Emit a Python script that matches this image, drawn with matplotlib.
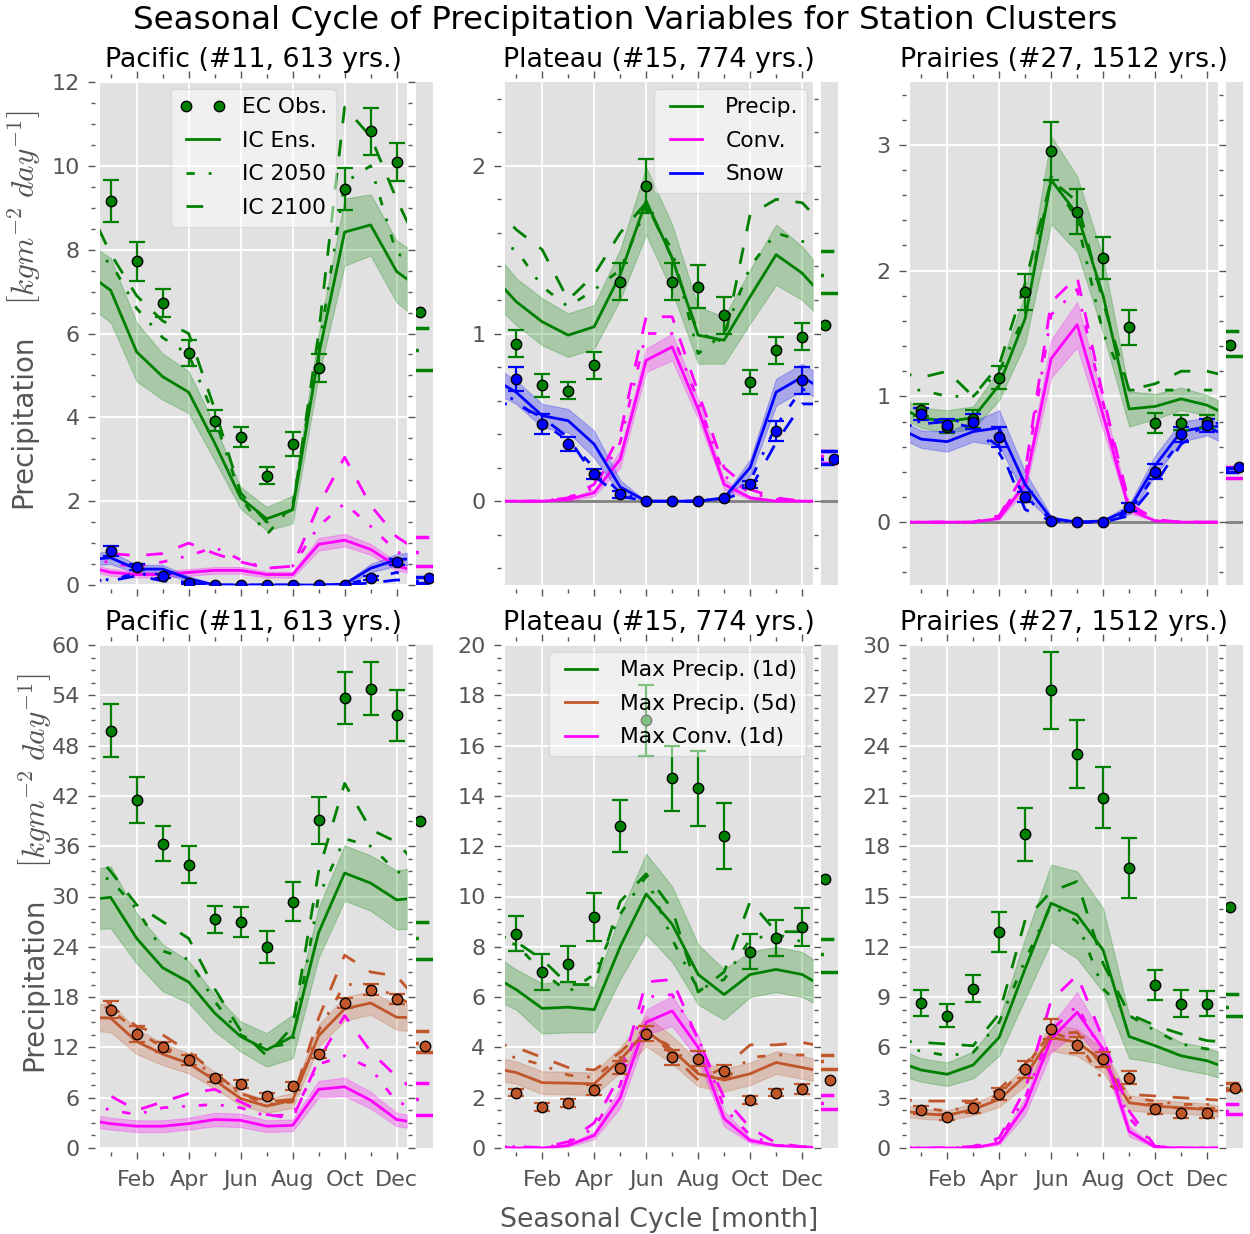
import numpy as np
import matplotlib.pyplot as plt
from matplotlib.lines import Line2D
from matplotlib.ticker import MultipleLocator, AutoMinorLocator, FixedLocator

plt.rcParams['font.family'] = ['DejaVu Sans']
plt.rcParams['mathtext.fontset'] = 'cm'

GREEN = '#008000'
MAGENTA = '#ff00ff'
BLUE = '#0000ff'
BROWN = '#c0562a'
GREY = '#555555'
BG = '#e1e1e1'
DASHDOT = (0, (3, 5, 1, 5))
DASHED = (0, (6, 6))

month_ticks = [2, 4, 6, 8, 10, 12]
month_names = ['Feb', 'Apr', 'Jun', 'Aug', 'Oct', 'Dec']
months = np.arange(1, 13)

# annual values: [obs, ens, 2050, 2100]

# ---- Pacific, mean precip ----
pac_pr_obs = [9.16, 7.72, 6.73, 5.53, 3.92, 3.53, 2.61, 3.36, 5.17, 9.44, 10.82, 10.10]
pac_pr_err = [0.51, 0.47, 0.34, 0.31, 0.25, 0.24, 0.21, 0.28, 0.33, 0.50, 0.55, 0.45]
pac_pr_ens = [7.03, 5.56, 4.97, 4.60, 3.39, 2.08, 1.58, 1.80, 5.48, 8.42, 8.59, 7.48]
pac_pr_spr = [0.77, 0.70, 0.55, 0.50, 0.42, 0.26, 0.28, 0.33, 0.50, 0.80, 0.73, 0.74]
pac_pr_f50 = [7.7, 6.6, 5.9, 5.5, 4.0, 2.1, 1.2, 1.9, 5.6, 9.6, 10.0, 7.9]
pac_pr_f100 = [7.9, 6.9, 6.3, 6.0, 4.2, 2.2, 1.5, 1.8, 6.0, 11.4, 10.7, 9.2]
pac_pr_ann = [6.51, 5.13, 5.6, 6.12]

pac_cv_ens = [0.30, 0.25, 0.25, 0.30, 0.35, 0.35, 0.25, 0.25, 0.97, 1.07, 0.85, 0.45]
pac_cv_spr = [0.08, 0.07, 0.07, 0.08, 0.08, 0.08, 0.07, 0.07, 0.15, 0.15, 0.13, 0.10]
pac_cv_f50 = [0.50, 0.45, 0.55, 0.70, 0.90, 0.60, 0.40, 0.45, 1.40, 1.95, 1.40, 0.80]
pac_cv_f100 = [0.75, 0.70, 0.75, 1.00, 0.75, 0.55, 0.40, 0.45, 1.90, 3.05, 1.90, 1.15]
pac_cv_ann = [None, 0.46, 0.78, 1.14]

pac_sn_obs = [0.82, 0.42, 0.22, 0.05, 0, 0, 0, 0, 0, 0, 0.17, 0.55]
pac_sn_err = [0.12, 0.07, 0.05, 0.03, 0, 0, 0, 0, 0, 0, 0.05, 0.08]
pac_sn_ens = [0.65, 0.38, 0.38, 0.15, 0.0, 0, 0, 0, 0, 0.02, 0.40, 0.60]
pac_sn_spr = [0.15, 0.10, 0.10, 0.06, 0.02, 0.01, 0.01, 0.01, 0.01, 0.03, 0.10, 0.14]
pac_sn_f50 = [0.10, 0.30, 0.15, 0.05, 0, 0, 0, 0, 0, 0.01, 0.15, 0.30]
pac_sn_f100 = [0.10, 0.22, 0.10, 0.03, 0, 0, 0, 0, 0, 0.0, 0.05, 0.12]
pac_sn_ann = [0.17, 0.19, 0.10, 0.05]

# ---- Plateau, mean precip ----
pla_pr_obs = [0.94, 0.69, 0.66, 0.81, 1.31, 1.88, 1.31, 1.28, 1.11, 0.71, 0.90, 0.98]
pla_pr_err = [0.08, 0.07, 0.05, 0.08, 0.11, 0.16, 0.11, 0.13, 0.11, 0.07, 0.08, 0.08]
pla_pr_ens = [1.19, 1.07, 0.99, 1.04, 1.35, 1.79, 1.45, 0.99, 0.96, 1.22, 1.47, 1.36]
pla_pr_spr = [0.14, 0.14, 0.13, 0.13, 0.15, 0.20, 0.20, 0.17, 0.14, 0.16, 0.18, 0.16]
pla_pr_f50 = [1.50, 1.28, 1.16, 1.26, 1.38, 1.75, 1.50, 0.88, 1.00, 1.40, 1.60, 1.55]
pla_pr_f100 = [1.62, 1.50, 1.20, 1.35, 1.60, 1.78, 1.45, 1.00, 0.95, 1.71, 1.80, 1.78]
pla_pr_ann = [1.05, 1.24, 1.35, 1.49]

pla_cv_ens = [0.0, 0.0, 0.01, 0.05, 0.25, 0.84, 0.92, 0.55, 0.10, 0.02, 0.0, 0.0]
pla_cv_spr = [0.0, 0.0, 0.01, 0.02, 0.05, 0.07, 0.08, 0.06, 0.03, 0.01, 0.0, 0.0]
pla_cv_f50 = [0.0, 0.0, 0.02, 0.08, 0.35, 1.00, 1.00, 0.60, 0.15, 0.05, 0.01, 0.0]
pla_cv_f100 = [0.0, 0.0, 0.02, 0.10, 0.40, 1.10, 1.10, 0.65, 0.20, 0.07, 0.02, 0.0]
pla_cv_ann = [None, 0.23, 0.27, 0.30]

pla_sn_obs = [0.73, 0.46, 0.34, 0.16, 0.04, 0, 0, 0, 0.02, 0.10, 0.42, 0.72]
pla_sn_err = [0.07, 0.06, 0.04, 0.03, 0.02, 0, 0, 0, 0, 0.02, 0.06, 0.08]
pla_sn_ens = [0.65, 0.51, 0.48, 0.34, 0.085, 0, 0, 0, 0.02, 0.20, 0.65, 0.74]
pla_sn_spr = [0.07, 0.07, 0.07, 0.08, 0.04, 0.0, 0.0, 0.0, 0.01, 0.05, 0.08, 0.08]
pla_sn_f50 = [0.60, 0.47, 0.36, 0.20, 0.05, 0, 0, 0, 0.02, 0.12, 0.45, 0.67]
pla_sn_f100 = [0.58, 0.50, 0.38, 0.15, 0.03, 0, 0, 0, 0.01, 0.07, 0.35, 0.58]
pla_sn_ann = [0.25, 0.30, 0.25, 0.22]

# ---- Prairies, mean precip ----
pra_pr_obs = [0.89, 0.76, 0.82, 1.15, 1.83, 2.95, 2.47, 2.10, 1.55, 0.79, 0.79, 0.80]
pra_pr_err = [0.05, 0.05, 0.07, 0.09, 0.14, 0.23, 0.18, 0.17, 0.14, 0.08, 0.06, 0.05]
pra_pr_ens = [0.83, 0.80, 0.83, 1.09, 1.62, 2.72, 2.45, 1.80, 0.90, 0.92, 0.98, 0.93]
pra_pr_spr = [0.08, 0.09, 0.09, 0.12, 0.20, 0.35, 0.30, 0.30, 0.14, 0.10, 0.09, 0.08]
pra_pr_f50 = [1.05, 1.00, 1.00, 1.20, 1.65, 2.75, 2.40, 1.50, 1.05, 1.05, 1.05, 1.05]
pra_pr_f100 = [1.15, 1.20, 1.00, 1.25, 1.90, 2.72, 2.55, 1.75, 1.05, 1.10, 1.20, 1.20]
pra_pr_ann = [1.41, 1.32, 1.43, 1.52]

pra_cv_ens = [0, 0, 0.0, 0.03, 0.30, 1.30, 1.57, 0.85, 0.10, 0.01, 0, 0]
pra_cv_spr = [0, 0, 0, 0.01, 0.05, 0.15, 0.18, 0.12, 0.03, 0, 0, 0]
pra_cv_f50 = [0, 0, 0, 0.05, 0.35, 1.65, 1.85, 0.95, 0.12, 0.01, 0, 0]
pra_cv_f100 = [0, 0, 0, 0.05, 0.40, 1.75, 1.95, 1.00, 0.15, 0.02, 0, 0]
pra_cv_ann = [None, 0.35, 0.41, 0.44]

pra_sn_obs = [0.86, 0.77, 0.80, 0.68, 0.20, 0.01, 0, 0, 0.12, 0.40, 0.70, 0.77]
pra_sn_err = [0.05, 0.05, 0.06, 0.08, 0.04, 0, 0, 0, 0.03, 0.06, 0.06, 0.05]
pra_sn_ens = [0.66, 0.64, 0.72, 0.75, 0.30, 0.03, 0, 0.01, 0.10, 0.45, 0.72, 0.76]
pra_sn_spr = [0.07, 0.08, 0.08, 0.14, 0.10, 0.02, 0, 0.01, 0.04, 0.08, 0.08, 0.07]
pra_sn_f50 = [0.80, 0.82, 0.78, 0.55, 0.20, 0.02, 0, 0, 0.08, 0.38, 0.65, 0.78]
pra_sn_f100 = [0.78, 0.80, 0.75, 0.60, 0.10, 0.01, 0, 0, 0.05, 0.30, 0.62, 0.75]
pra_sn_ann = [0.44, 0.43, 0.42, 0.40]

# ---- Pacific, extremes ----
pac_x1_obs = [49.8, 41.5, 36.3, 33.8, 27.3, 27.0, 24.0, 29.4, 39.1, 53.7, 54.8, 51.6]
pac_x1_err = [3.2, 2.7, 2.1, 2.2, 1.6, 1.8, 1.9, 2.3, 2.8, 3.1, 3.2, 3.0]
pac_x1_ens = [29.9, 25.0, 21.5, 19.8, 16.1, 13.3, 11.7, 13.3, 25.7, 32.8, 31.6, 29.6]
pac_x1_spr = [3.7, 3.0, 2.8, 2.5, 2.2, 1.8, 2.0, 2.6, 3.0, 3.3, 3.3, 3.5]
pac_x1_f50 = [32.0, 28.5, 23.5, 22.5, 17.5, 13.5, 12.0, 12.5, 30.0, 36.9, 36.0, 33.0]
pac_x1_f100 = [33.0, 29.0, 27.0, 25.0, 19.0, 14.0, 11.0, 14.5, 33.0, 43.5, 38.0, 36.5]
pac_x1_ann = [39.0, 22.6, 25.0, 27.0]

pac_x5_obs = [16.5, 13.6, 12.1, 10.5, 8.3, 7.6, 6.2, 7.4, 11.2, 17.3, 18.9, 17.8]
pac_x5_err = [1.0, 0.9, 0.6, 0.6, 0.4, 0.5, 0.4, 0.5, 0.5, 0.6, 0.7, 0.6]
pac_x5_ens = [15.5, 12.7, 11.2, 10.1, 8.1, 5.9, 5.0, 5.7, 13.4, 16.6, 17.3, 15.6]
pac_x5_spr = [1.7, 1.5, 1.3, 1.2, 1.0, 0.8, 0.8, 0.9, 1.3, 1.4, 1.4, 1.5]
pac_x5_f50 = [16.5, 14.0, 12.0, 11.0, 8.5, 6.5, 5.2, 5.5, 14.0, 19.5, 19.5, 18.0]
pac_x5_f100 = [17.0, 14.5, 13.5, 11.5, 9.0, 6.5, 5.5, 5.8, 15.5, 23.0, 21.0, 20.5]
pac_x5_ann = [12.2, 11.4, 12.5, 13.9]

pac_xc_ens = [2.9, 2.6, 2.6, 2.9, 3.4, 3.3, 2.6, 2.7, 7.0, 7.3, 5.7, 3.4]
pac_xc_spr = [0.7, 0.7, 0.7, 0.7, 0.8, 0.8, 0.7, 0.7, 1.0, 1.1, 1.0, 0.8]
pac_xc_f50 = [4.5, 4.0, 4.8, 5.0, 5.2, 4.8, 3.8, 4.0, 10.0, 11.0, 9.5, 5.5]
pac_xc_f100 = [6.2, 4.5, 5.5, 6.5, 7.0, 5.5, 4.0, 3.5, 10.5, 15.8, 11.5, 8.5]
pac_xc_ann = [None, 3.9, 5.8, 7.7]

# ---- Plateau, extremes ----
pla_x1_obs = [8.52, 7.0, 7.32, 9.2, 12.8, 17.0, 14.7, 14.3, 12.4, 7.8, 8.35, 8.8]
pla_x1_err = [0.7, 0.7, 0.7, 0.95, 1.05, 1.4, 1.3, 1.5, 1.3, 0.7, 0.7, 0.75]
pla_x1_ens = [6.3, 5.55, 5.6, 5.5, 8.0, 10.1, 8.9, 6.9, 6.1, 6.9, 7.1, 6.9]
pla_x1_spr = [0.8, 1.0, 1.0, 0.9, 1.3, 1.6, 1.5, 1.2, 1.0, 0.9, 0.9, 0.9]
pla_x1_f50 = [8.1, 7.0, 6.2, 6.9, 9.3, 10.8, 8.3, 6.3, 6.7, 8.3, 8.5, 8.2]
pla_x1_f100 = [8.2, 7.5, 6.5, 6.5, 9.8, 10.9, 9.5, 6.2, 7.0, 9.8, 8.6, 8.6]
pla_x1_ann = [10.7, 7.0, 7.7, 8.3]

pla_x5_obs = [2.2, 1.62, 1.8, 2.3, 3.2, 4.55, 3.6, 3.55, 3.05, 1.9, 2.2, 2.35]
pla_x5_err = [0.15, 0.15, 0.15, 0.2, 0.25, 0.3, 0.3, 0.3, 0.25, 0.15, 0.15, 0.2]
pla_x5_ens = [3.0, 2.6, 2.58, 2.55, 3.5, 4.65, 3.9, 2.95, 2.7, 2.95, 3.4, 3.2]
pla_x5_spr = [0.45, 0.45, 0.45, 0.45, 0.5, 0.6, 0.55, 0.5, 0.45, 0.45, 0.45, 0.45]
pla_x5_f50 = [3.6, 3.3, 2.9, 2.8, 3.6, 4.6, 4.0, 3.0, 2.7, 3.6, 3.7, 3.7]
pla_x5_f100 = [4.0, 3.6, 3.2, 3.1, 3.8, 4.8, 3.7, 2.7, 3.2, 4.1, 4.1, 4.2]
pla_x5_ann = [2.7, 3.15, 3.45, 3.7]

pla_xc_ens = [0.0, 0.0, 0.1, 0.5, 2.0, 5.0, 5.45, 4.0, 1.17, 0.3, 0.1, 0.05]
pla_xc_spr = [0.02, 0.02, 0.05, 0.15, 0.4, 0.5, 0.6, 0.5, 0.3, 0.1, 0.03, 0.02]
pla_xc_f50 = [0.05, 0.0, 0.2, 0.8, 2.5, 6.0, 6.1, 4.4, 1.6, 0.5, 0.1, 0.05]
pla_xc_f100 = [0.05, 0.02, 0.25, 1.0, 2.9, 6.6, 6.7, 4.3, 2.0, 0.8, 0.2, 0.05]
pla_xc_ann = [None, 1.55, 1.77, 2.1]

# ---- Prairies, extremes ----
pra_x1_obs = [8.65, 7.9, 9.5, 12.9, 18.7, 27.3, 23.5, 20.9, 16.7, 9.7, 8.6, 8.6]
pra_x1_err = [0.75, 0.7, 0.8, 1.2, 1.6, 2.3, 2.0, 1.8, 1.8, 0.9, 0.8, 0.75]
pra_x1_ens = [4.65, 4.4, 4.95, 6.6, 10.7, 14.6, 13.9, 11.8, 6.65, 6.1, 5.5, 5.2]
pra_x1_spr = [0.7, 0.7, 0.8, 1.1, 1.8, 2.3, 2.6, 2.5, 1.3, 1.0, 0.8, 0.8]
pra_x1_f50 = [5.8, 5.5, 5.7, 7.5, 11.2, 14.5, 13.5, 9.5, 7.9, 7.0, 6.2, 5.9]
pra_x1_f100 = [6.3, 6.2, 6.1, 8.0, 13.6, 15.3, 15.9, 11.0, 8.0, 7.3, 6.8, 6.4]
pra_x1_ann = [14.4, 7.9, 8.4, 9.2]

pra_x5_obs = [2.25, 1.85, 2.4, 3.2, 4.7, 7.1, 6.15, 5.3, 4.2, 2.3, 2.1, 2.1]
pra_x5_err = [0.25, 0.2, 0.3, 0.35, 0.5, 0.6, 0.5, 0.45, 0.4, 0.3, 0.3, 0.3]
pra_x5_ens = [2.05, 1.95, 2.3, 2.9, 4.3, 6.6, 6.3, 5.2, 2.7, 2.5, 2.4, 2.3]
pra_x5_spr = [0.3, 0.3, 0.35, 0.45, 0.6, 0.8, 0.8, 0.7, 0.45, 0.4, 0.35, 0.35]
pra_x5_f50 = [2.4, 2.2, 2.5, 3.2, 4.8, 6.9, 6.4, 4.0, 3.0, 2.8, 2.6, 2.6]
pra_x5_f100 = [2.8, 2.8, 2.8, 3.5, 5.0, 6.8, 6.9, 4.8, 3.2, 3.1, 3.0, 2.9]
pra_x5_ann = [3.6, 3.45, 3.6, 3.9]

pra_xc_ens = [0, 0, 0, 0.3, 2.5, 6.5, 8.1, 5.9, 1.0, 0.05, 0, 0]
pra_xc_spr = [0, 0, 0.02, 0.1, 0.5, 0.8, 1.2, 0.7, 0.3, 0.03, 0, 0]
pra_xc_f50 = [0, 0, 0.05, 0.5, 3.0, 7.0, 8.5, 5.5, 1.8, 0.1, 0, 0]
pra_xc_f100 = [0, 0, 0.1, 0.6, 3.5, 8.8, 10.3, 6.5, 2.2, 0.1, 0, 0]
pra_xc_ann = [None, 2.05, 2.2, 2.65]

titles = ['Pacific (#11, 613 yrs.)', 'Plateau (#15, 774 yrs.)', 'Prairies (#27, 1512 yrs.)']


def wrap(v):
    # repeat Dec before Jan and Jan after Dec so lines run to the edges
    v = list(v)
    return np.array([v[-1]] + v + [v[0]], dtype=float)


xw = np.arange(0, 14)


def draw_series(ax, sax, color, ens, spr, f50, f100, ann, obs=None, err=None, xpos=0.25):
    e = wrap(ens)
    s = wrap(spr)
    ax.fill_between(xw, e - s, e + s, color=color, alpha=0.25, lw=0.8, zorder=2)
    ax.plot(xw, e, color=color, lw=2, zorder=3)
    ax.plot(xw, wrap(f50), color=color, lw=2, ls=DASHDOT, zorder=3)
    ax.plot(xw, wrap(f100), color=color, lw=2, ls=DASHED, zorder=3)
    if obs is not None:
        obs = np.array(obs, dtype=float)
        err = np.array(err, dtype=float)
        m = err > 0
        ax.errorbar(months[m], obs[m], yerr=err[m], fmt='none', ecolor=color,
                    elinewidth=1.6, capsize=6, capthick=1.6, zorder=4)
        ax.plot(months, obs, 'o', ms=7.5, mfc=color, mec='k', mew=1, zorder=5)
    sx = [-0.5, 1.5]
    sax.plot(sx, [ann[1]] * 2, color=color, lw=2.5, zorder=3)
    sax.plot(sx, [ann[2]] * 2, color=color, lw=2.5, ls=DASHDOT, zorder=3)
    sax.plot(sx, [ann[3]] * 2, color=color, lw=2.5, ls=DASHED, zorder=3)
    if ann[0] is not None:
        sax.plot([xpos], [ann[0]], 'o', ms=7.5, mfc=color, mec='k', mew=1, zorder=5)


def style_axes(ax, sax, ylim, major, bottom_row):
    for s in ['left', 'bottom', 'top']:
        ax.spines[s].set_position(('outward', 3))
    ax.spines['right'].set_position(('outward', 1))
    for sp in list(ax.spines.values()) + list(sax.spines.values()):
        sp.set_visible(False)
    ax.set_facecolor(BG)
    sax.set_facecolor(BG)
    ax.set_xlim(0.57, 12.4)
    ax.set_ylim(ylim)
    sax.set_xlim(0, 1)
    sax.set_ylim(ylim)
    ax.xaxis.set_major_locator(FixedLocator(month_ticks))
    ax.xaxis.set_minor_locator(MultipleLocator(1))
    ax.yaxis.set_major_locator(MultipleLocator(major))
    ax.yaxis.set_minor_locator(AutoMinorLocator())
    ax.grid(which='major', color='white', lw=1.3)
    ax.set_axisbelow(True)
    ax.tick_params(which='both', direction='out', color=GREY, labelcolor=GREY,
                   top=True, right=True, labelsize=16, width=1, pad=6)
    ax.tick_params(which='major', length=5)
    ax.tick_params(which='minor', length=3)
    if bottom_row:
        ax.set_xticklabels(month_names)
        ax.tick_params(axis='x', pad=8)
    else:
        ax.tick_params(axis='x', labelbottom=False)
    sax.tick_params(which='both', left=False, bottom=False, labelleft=False, labelbottom=False)


fig = plt.figure(figsize=(12.5, 12.34), dpi=100)
W, H = 1250.0, 1234.0
main_left = [99.5, 505, 910]
side_left = [416, 821, 1226]
row_top = [82, 645]
ax_w, ax_h, side_w = 307.5, 503, 17

axes = {}
for r in range(2):
    for c in range(3):
        b = (H - row_top[r] - ax_h) / H
        ax = fig.add_axes([main_left[c] / W, b, ax_w / W, ax_h / H])
        sax = fig.add_axes([side_left[c] / W, b, side_w / W, ax_h / H])
        axes[(r, c)] = (ax, sax)

# top row: mean precipitation, convective and snow
top = [
    (pac_pr_obs, pac_pr_err, pac_pr_ens, pac_pr_spr, pac_pr_f50, pac_pr_f100, pac_pr_ann,
     pac_cv_ens, pac_cv_spr, pac_cv_f50, pac_cv_f100, pac_cv_ann,
     pac_sn_obs, pac_sn_err, pac_sn_ens, pac_sn_spr, pac_sn_f50, pac_sn_f100, pac_sn_ann),
    (pla_pr_obs, pla_pr_err, pla_pr_ens, pla_pr_spr, pla_pr_f50, pla_pr_f100, pla_pr_ann,
     pla_cv_ens, pla_cv_spr, pla_cv_f50, pla_cv_f100, pla_cv_ann,
     pla_sn_obs, pla_sn_err, pla_sn_ens, pla_sn_spr, pla_sn_f50, pla_sn_f100, pla_sn_ann),
    (pra_pr_obs, pra_pr_err, pra_pr_ens, pra_pr_spr, pra_pr_f50, pra_pr_f100, pra_pr_ann,
     pra_cv_ens, pra_cv_spr, pra_cv_f50, pra_cv_f100, pra_cv_ann,
     pra_sn_obs, pra_sn_err, pra_sn_ens, pra_sn_spr, pra_sn_f50, pra_sn_f100, pra_sn_ann),
]
top_ylim = [(0, 12), (-0.5, 2.5), (-0.5, 3.5)]
top_major = [2, 1, 1]

for c, d in enumerate(top):
    ax, sax = axes[(0, c)]
    style_axes(ax, sax, top_ylim[c], top_major[c], False)
    if top_ylim[c][0] < 0:
        ax.axhline(0, color='grey', lw=2, zorder=1.5)
        sax.axhline(0, color='grey', lw=2, zorder=1.5)
    draw_series(ax, sax, GREEN, d[2], d[3], d[4], d[5], d[6], d[0], d[1], 0.25)
    draw_series(ax, sax, MAGENTA, d[7], d[8], d[9], d[10], d[11])
    draw_series(ax, sax, BLUE, d[14], d[15], d[16], d[17], d[18], d[12], d[13], 0.75)
    ax.set_title(titles[c], fontsize=19.3, y=1.0, pad=11)

# bottom row: extremes
bot = [
    (pac_x1_obs, pac_x1_err, pac_x1_ens, pac_x1_spr, pac_x1_f50, pac_x1_f100, pac_x1_ann,
     pac_x5_obs, pac_x5_err, pac_x5_ens, pac_x5_spr, pac_x5_f50, pac_x5_f100, pac_x5_ann,
     pac_xc_ens, pac_xc_spr, pac_xc_f50, pac_xc_f100, pac_xc_ann),
    (pla_x1_obs, pla_x1_err, pla_x1_ens, pla_x1_spr, pla_x1_f50, pla_x1_f100, pla_x1_ann,
     pla_x5_obs, pla_x5_err, pla_x5_ens, pla_x5_spr, pla_x5_f50, pla_x5_f100, pla_x5_ann,
     pla_xc_ens, pla_xc_spr, pla_xc_f50, pla_xc_f100, pla_xc_ann),
    (pra_x1_obs, pra_x1_err, pra_x1_ens, pra_x1_spr, pra_x1_f50, pra_x1_f100, pra_x1_ann,
     pra_x5_obs, pra_x5_err, pra_x5_ens, pra_x5_spr, pra_x5_f50, pra_x5_f100, pra_x5_ann,
     pra_xc_ens, pra_xc_spr, pra_xc_f50, pra_xc_f100, pra_xc_ann),
]
bot_ylim = [(0, 60), (0, 20), (0, 30)]
bot_major = [6, 2, 3]

for c, d in enumerate(bot):
    ax, sax = axes[(1, c)]
    style_axes(ax, sax, bot_ylim[c], bot_major[c], True)
    draw_series(ax, sax, GREEN, d[2], d[3], d[4], d[5], d[6], d[0], d[1], 0.25)
    draw_series(ax, sax, BROWN, d[9], d[10], d[11], d[12], d[13], d[7], d[8], 0.5)
    draw_series(ax, sax, MAGENTA, d[14], d[15], d[16], d[17], d[18])
    ax.set_title(titles[c], fontsize=19.3, y=1.0, pad=11)

# y label in two pieces: plain word plus a slightly larger unit part
for dx, dy in [(0, 0), (11, 563)]:
    fig.text((23.5 + dx) / W, 1 - (421.5 + dy) / H, 'Precipitation', rotation=90,
             ha='center', va='center', fontsize=20, color=GREY)
    fig.text((23.5 + dx) / W, 1 - (207.5 + dy) / H, r'$\left[kgm^{-2}\;day^{-1}\right]$',
             rotation=90, ha='center', va='center', fontsize=22.5, color=GREY)

fig.text(659 / W, 1 - 1220 / H, 'Seasonal Cycle [month]', ha='center', va='center',
         fontsize=19.3, color=GREY)
fig.suptitle('Seasonal Cycle of Precipitation Variables for Station Clusters',
             fontsize=23.4, y=1 - 20 / H, va='center')

leg_kw = dict(fontsize=15.7, numpoints=2, framealpha=0.5, facecolor='white',
              edgecolor='#cccccc', handlelength=2.1, handletextpad=0.75, fancybox=True,
              labelspacing=0.62, borderaxespad=0.3)

h_obs = [Line2D([], [], ls='none', marker='o', ms=7.5, mfc=GREEN, mec='k', mew=1),
         Line2D([], [], color=GREEN, lw=2),
         Line2D([], [], color=GREEN, lw=2, ls=DASHDOT),
         Line2D([], [], color=GREEN, lw=2, ls=DASHED)]
lg = axes[(0, 0)][0].legend(h_obs, ['EC Obs.', 'IC Ens.', 'IC 2050', 'IC 2100'],
                            loc='upper center', **leg_kw)
lg.set_zorder(10)

h_var = [Line2D([], [], color=GREEN, lw=2), Line2D([], [], color=MAGENTA, lw=2),
         Line2D([], [], color=BLUE, lw=2)]
lg = axes[(0, 1)][0].legend(h_var, ['Precip.', 'Conv.', 'Snow'], loc='upper right',
                            bbox_to_anchor=(1.005, 1.0), **leg_kw)
lg.set_zorder(10)

h_ext = [Line2D([], [], color=GREEN, lw=2), Line2D([], [], color=BROWN, lw=2),
         Line2D([], [], color=MAGENTA, lw=2)]
lg = axes[(1, 1)][0].legend(h_ext, ['Max Precip. (1d)', 'Max Precip. (5d)', 'Max Conv. (1d)'],
                            loc='upper right', **leg_kw)
lg.set_zorder(10)

fig.savefig('out.png', dpi=100)
